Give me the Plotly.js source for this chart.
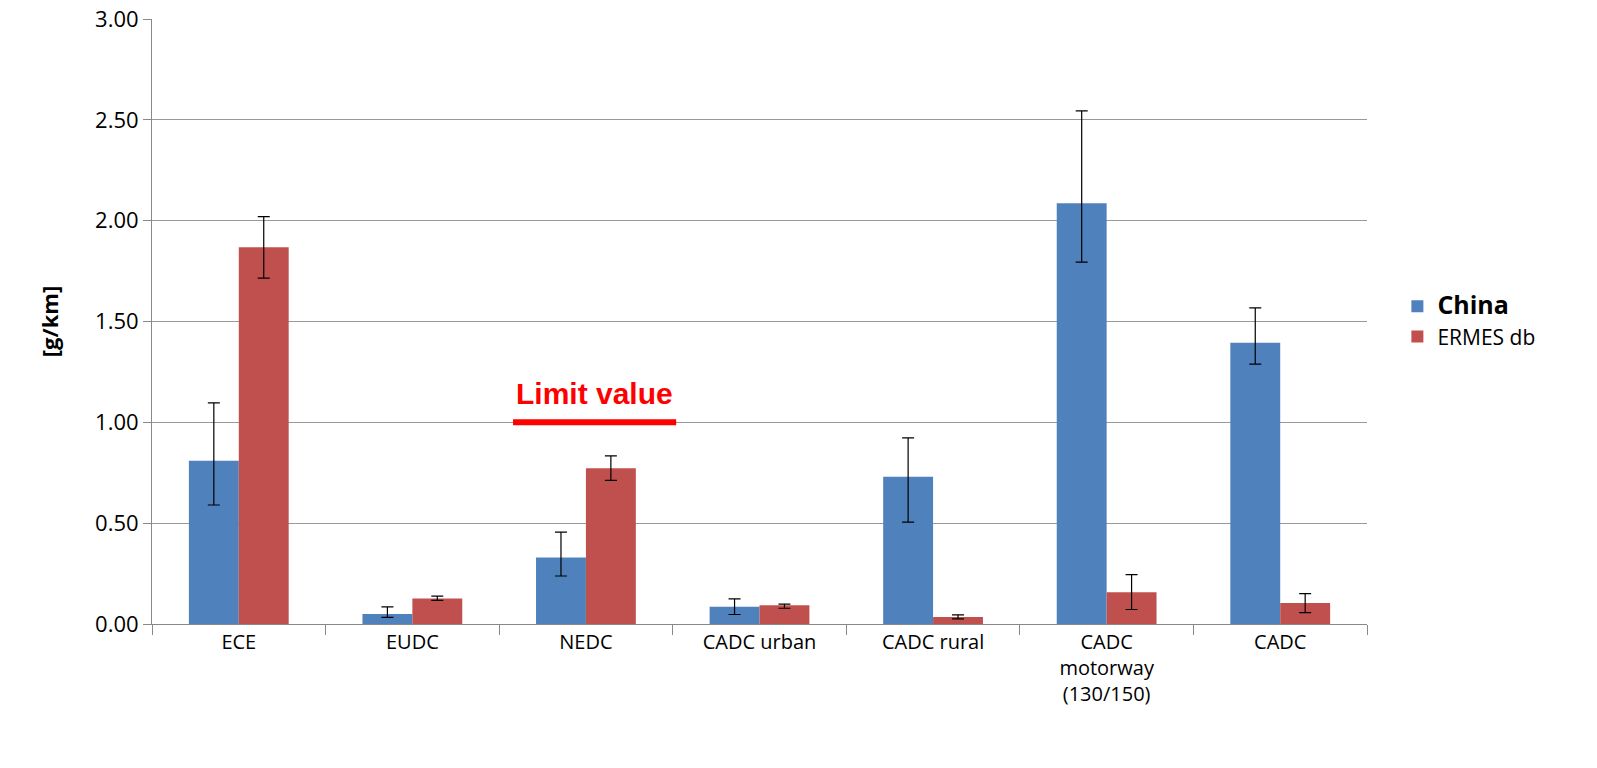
<!DOCTYPE html>
<html>
<head>
<meta charset="utf-8">
<script src="https://cdn.plot.ly/plotly-3.0.1.min.js"></script>
<style>body{margin:0;background:#fff}#chart{width:1597px;height:768px}</style>
</head>
<body>
<div id="chart"></div>
<script>
const categories = ["ECE", "EUDC", "NEDC", "CADC urban", "CADC rural", "CADC<br>motorway<br>(130/150)", "CADC"];
const china = [0.81, 0.05, 0.33, 0.086, 0.73, 2.086, 1.395];
const chinaHi = [1.096, 0.085, 0.456, 0.125, 0.923, 2.544, 1.568];
const chinaLo = [0.59, 0.033, 0.238, 0.047, 0.505, 1.794, 1.289];
const ermes = [1.868, 0.127, 0.772, 0.093, 0.035, 0.158, 0.104];
const ermesHi = [2.02, 0.138, 0.834, 0.099, 0.045, 0.245, 0.151];
const ermesLo = [1.715, 0.117, 0.712, 0.078, 0.025, 0.072, 0.056];
const limitValue = 1.0;

const font = "Open Sans, Liberation Sans, sans-serif";

function errs(v, hi, lo) {
    return {
        type: "data", symmetric: false,
        array: hi.map((h, i) => h - v[i]),
        arrayminus: lo.map((l, i) => v[i] - l),
        color: "#000", thickness: 1.2, width: 6
    };
}

const traces = [
    {type: "bar", name: "<span style='font-size:25px'><b>China</b></span>", x: categories, y: china,
     marker: {color: "#4f81bd"}, error_y: errs(china, chinaHi, chinaLo)},
    {type: "bar", name: "ERMES db", x: categories, y: ermes,
     marker: {color: "#c0504d"}, error_y: errs(ermes, ermesHi, ermesLo)}
];

const layout = {
    width: 1597, height: 768,
    margin: {l: 152, r: 230, t: 19, b: 144},
    paper_bgcolor: "#fff", plot_bgcolor: "#fff",
    barmode: "group", bargap: 0.425, bargroupgap: 0,
    font: {family: font, size: 20, color: "#000"},
    showlegend: true,
    legend: {x: 1.025, y: 0.5, yanchor: "middle", font: {size: 21},
             tracegroupgap: 14, itemwidth: 30},
    xaxis: {
        type: "category", tickson: "boundaries", ticks: "outside", ticklen: 10,
        tickcolor: "#888", showgrid: false, showline: true, linecolor: "#888",
        tickfont: {size: 20}, automargin: false
    },
    yaxis: {
        range: [0, 3], dtick: 0.5, tickformat: ".2f", ticks: "outside", ticklen: 8,
        tickcolor: "#888", showgrid: true, gridcolor: "#999", gridwidth: 1,
        showline: true, linecolor: "#888", zeroline: false,
        tickfont: {size: 22}, automargin: false,
        title: {text: "<b>[g/km]</b>", font: {size: 22}, standoff: 30}
    },
    shapes: [{type: "line", xref: "x", yref: "y", x0: 1.58, x1: 2.52,
              y0: limitValue, y1: limitValue, line: {color: "#ff0000", width: 6}}],
    annotations: [{xref: "x", yref: "y", x: 2.05, y: limitValue, yanchor: "bottom",
                   yshift: 10, showarrow: false, text: "<b>Limit value</b>",
                   font: {family: "Liberation Sans Narrow, Liberation Sans, sans-serif", size: 30, color: "#ff0000"}}]
};

Plotly.newPlot("chart", traces, layout, {displayModeBar: false});
</script>
</body>
</html>
